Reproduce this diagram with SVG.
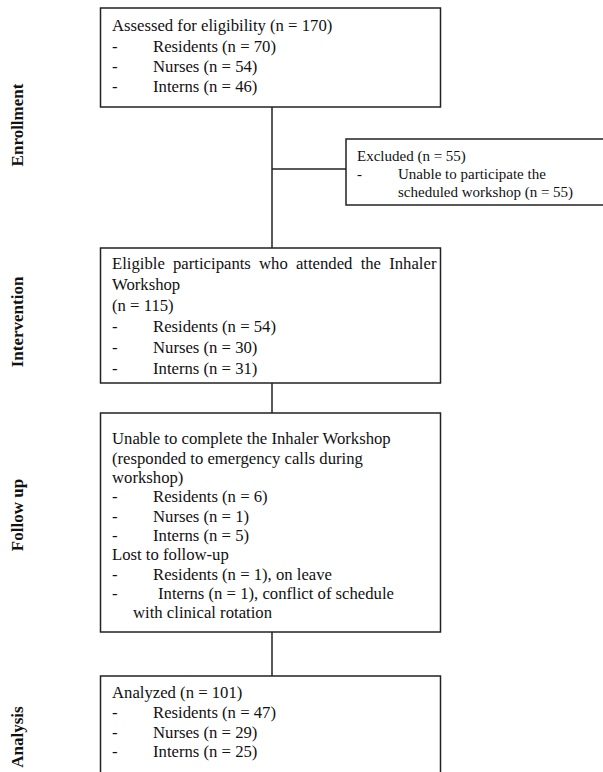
<svg xmlns="http://www.w3.org/2000/svg" width="603" height="772" viewBox="0 0 603 772">
<style>
.box{fill:#fff;stroke:#222;stroke-width:1.5}
.t{font-family:"Liberation Serif","Times New Roman",serif;font-size:16.7px;fill:#111}
.s{font-family:"Liberation Serif","Times New Roman",serif;font-size:15px;fill:#111}
.lab{font-family:"Liberation Serif","Times New Roman",serif;font-size:17px;font-weight:bold;fill:#111}
.ln{stroke:#222;stroke-width:1.5;fill:none}
</style>
<rect width="603" height="772" fill="#fff"/>
<g id="connectors">
<line class="ln" x1="272" y1="107" x2="272" y2="248"/>
<line class="ln" x1="272" y1="169" x2="346" y2="169"/>
<line class="ln" x1="272" y1="383" x2="272" y2="413"/>
<line class="ln" x1="272" y1="632" x2="272" y2="676"/>
</g>
<g id="labels">
<text class="lab" transform="translate(23,125) rotate(-90)" text-anchor="middle">Enrollment</text>
<text class="lab" transform="translate(23,322) rotate(-90)" text-anchor="middle">Intervention</text>
<text class="lab" transform="translate(23,515) rotate(-90)" text-anchor="middle">Follow up</text>
<text class="lab" transform="translate(23,737) rotate(-90)" text-anchor="middle">Analysis</text>
</g>
<g id="enrollment">
<rect class="box" x="100.5" y="8" width="340" height="99"/>
<text class="t" x="112" y="31">Assessed for eligibility (n = 170)</text>
<text class="t" x="112" y="52">-</text><text class="t" x="153" y="52">Residents (n = 70)</text>
<text class="t" x="112" y="72">-</text><text class="t" x="153" y="72">Nurses (n = 54)</text>
<text class="t" x="112" y="92">-</text><text class="t" x="153" y="92">Interns (n = 46)</text>
</g>
<g id="excluded">
<rect class="box" x="346" y="139" width="262" height="66"/>
<text class="s" x="357" y="161">Excluded (n = 55)</text>
<text class="s" x="357" y="179">-</text><text class="s" x="398" y="179">Unable to participate the</text>
<text class="s" x="398" y="197">scheduled workshop (n = 55)</text>
</g>
<g id="intervention">
<rect class="box" x="100.5" y="248" width="340" height="135"/>
<text class="t" x="112" y="269" word-spacing="4">Eligible participants who attended the Inhaler</text>
<text class="t" x="112" y="290">Workshop</text>
<text class="t" x="112" y="311">(n = 115)</text>
<text class="t" x="112" y="332">-</text><text class="t" x="153" y="332">Residents (n = 54)</text>
<text class="t" x="112" y="353">-</text><text class="t" x="153" y="353">Nurses (n = 30)</text>
<text class="t" x="112" y="374">-</text><text class="t" x="153" y="374">Interns (n = 31)</text>
</g>
<g id="followup">
<rect class="box" x="100.5" y="413" width="340" height="219"/>
<text class="t" x="112" y="444">Unable to complete the Inhaler Workshop</text>
<text class="t" x="112" y="464">(responded to emergency calls during</text>
<text class="t" x="112" y="483">workshop)</text>
<text class="t" x="112" y="502">-</text><text class="t" x="153" y="502">Residents (n = 6)</text>
<text class="t" x="112" y="521.5">-</text><text class="t" x="153" y="521.5">Nurses (n = 1)</text>
<text class="t" x="112" y="541">-</text><text class="t" x="153" y="541">Interns (n = 5)</text>
<text class="t" x="112" y="560">Lost to follow-up</text>
<text class="t" x="112" y="579.5">-</text><text class="t" x="153" y="579.5">Residents (n = 1), on leave</text>
<text class="t" x="112" y="599">-</text><text class="t" x="158" y="599">Interns (n = 1), conflict of schedule</text>
<text class="t" x="133" y="618">with clinical rotation</text>
</g>
<g id="analysis">
<rect class="box" x="100.5" y="676" width="340" height="110"/>
<text class="t" x="112" y="698">Analyzed (n = 101)</text>
<text class="t" x="112" y="718">-</text><text class="t" x="153" y="718">Residents (n = 47)</text>
<text class="t" x="112" y="738">-</text><text class="t" x="153" y="738">Nurses (n = 29)</text>
<text class="t" x="112" y="757">-</text><text class="t" x="153" y="757">Interns (n = 25)</text>
</g>
</svg>
